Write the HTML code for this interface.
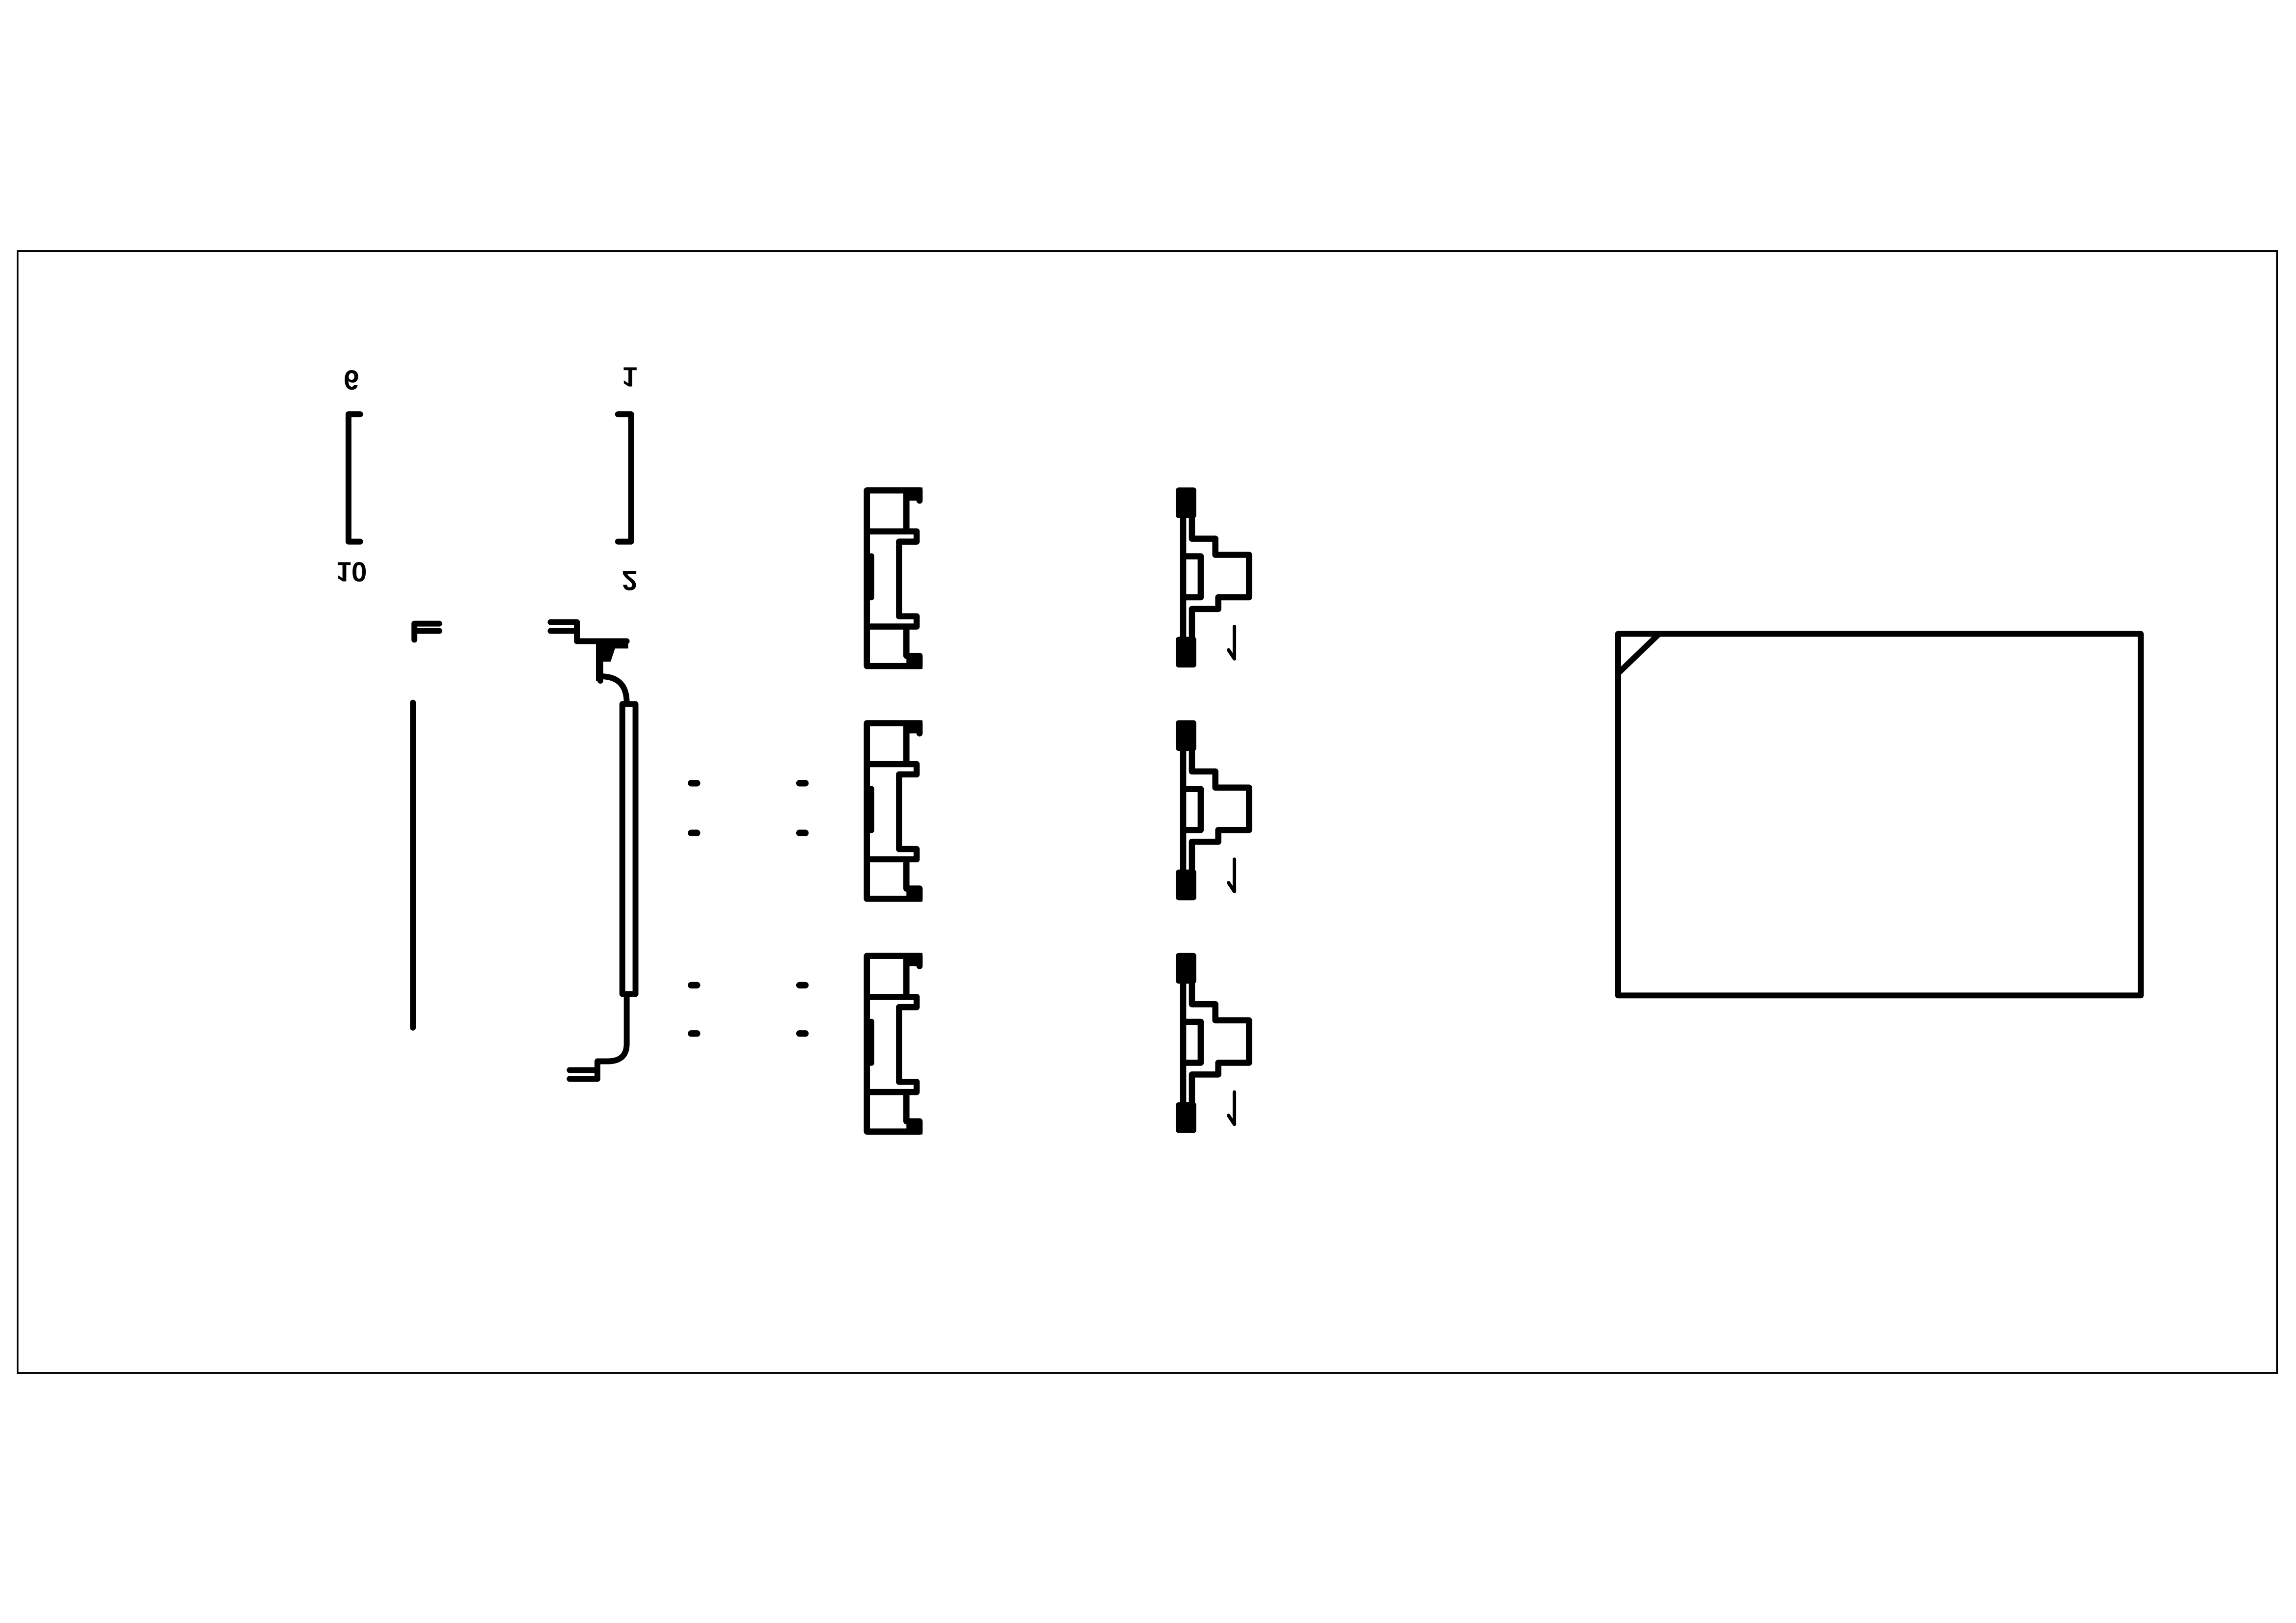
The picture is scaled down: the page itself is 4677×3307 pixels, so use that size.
<!DOCTYPE html>
<html><head><meta charset="utf-8"><style>html,body{margin:0;padding:0;background:#fff}svg{display:block}</style></head>
<body>
<svg xmlns="http://www.w3.org/2000/svg" xmlns:xlink="http://www.w3.org/1999/xlink" width="4677" height="3307" viewBox="0 0 1568 1108.7" preserveAspectRatio="none">
<defs>
  <g id="comp">
    <g fill="none" stroke="#000" stroke-width="4.2" stroke-linecap="round" stroke-linejoin="round">
      <path d="M628,342 V335 H592 V455 H628 V448 H619 V428 M619,335 V362 M594,363 H626 V370 H614 V421 H626 V428 H594 M595,380 V408"/>
      <path d="M814,352 V368 H830 V379 H853 V408 H832 V416 H814 V437 M808,352 V437 M808,380 H820 V408 H808"/>
      <path d="M843,428 V450 M839,444 L843,450" stroke-width="2.4"/>
    </g>
    <rect x="619" y="333" width="11" height="9" fill="#000"/>
    <rect x="619" y="448" width="11" height="9" fill="#000"/>
    <rect x="803" y="333" width="14" height="21" rx="2" fill="#000"/>
    <rect x="803" y="435" width="14" height="21" rx="2" fill="#000"/>
  </g>
</defs>
<rect x="0" y="0" width="1568" height="1108.7" fill="#fff"/>
<rect x="12" y="171.5" width="1543" height="766.5" fill="none" stroke="#000" stroke-width="1.2"/>
<g fill="none" stroke="#000" stroke-width="4" stroke-linecap="round" stroke-linejoin="round">
  <path d="M246,283 H238 V370 H246"/>
  <path d="M422,283 H431 V370 H422"/>
  <path d="M283,437 V426 H300 M283,431 H300"/>
  <path d="M282,480 V702"/>
  <path d="M376,425 H394 V438 H428 M376,431 H394"/>
  <path d="M410,440 V465 M410,462 Q428,462 428,480 M428,680 V713 Q428,725 415,725 H408 V737 M389,731 H408 M389,737 H408"/>
  <rect x="425" y="481" width="9" height="198"/>
  <path d="M1105,433 H1462 V680 H1105 Z M1105,460 L1133,433"/>
  <g stroke-width="4.5">
    <path d="M472,535 h4 M546,535 h4 M472,569 h4 M546,569 h4 M472,673 h4 M546,673 h4 M472,706 h4 M546,706 h4"/>
  </g>
</g>
<polygon points="407,437 429,437 429,443 420,443 417,452 411,452 411,465 407,465" fill="#000"/>
<use xlink:href="#comp" href="#comp"/>
<use xlink:href="#comp" href="#comp" transform="translate(0,159)"/>
<use xlink:href="#comp" href="#comp" transform="translate(0,318)"/>
<g font-family="Liberation Sans, sans-serif" font-weight="bold" font-size="19" fill="#000" text-anchor="middle">
  <text transform="translate(240,253) scale(1,-1)">6</text>
  <text transform="translate(240,384) scale(1,-1)">10</text>
  <text transform="translate(430,251) scale(1,-1)">1</text>
  <text transform="translate(430,390) scale(1,-1)">2</text>
</g>
</svg>
</body></html>
